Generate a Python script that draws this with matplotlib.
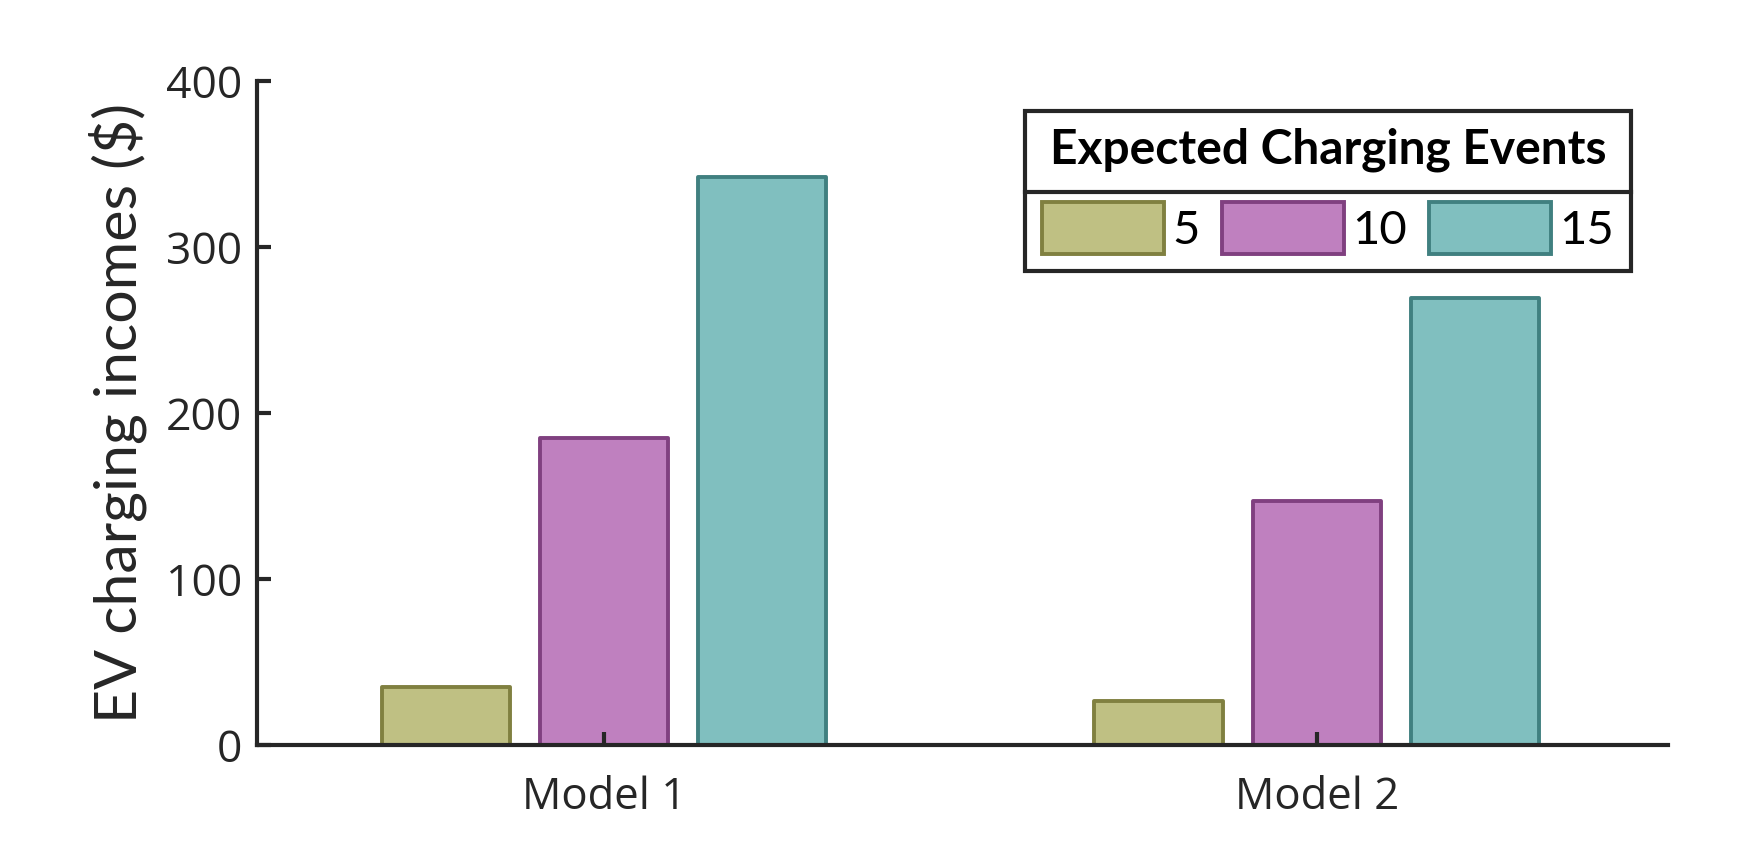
import numpy as np
from matplotlib import pyplot as plt
from matplotlib.patches import Patch
from matplotlib.lines import Line2D

# dados
modelos = ['Model 1', 'Model 2']
eventos = ['5', '10', '15']
receita_5 = [34.7, 26.7]
receita_10 = [185.0, 147.0]
receita_15 = [342.0, 269.0]

cores = ['#BFC083', '#BF80BF', '#80BFBF']
bordas = ['#808040', '#804080', '#408080']
cinza = '#262626'

fig = plt.figure(figsize=(17.38, 8.58), dpi=100)
ax = fig.add_axes([0.1479, 0.1317, 0.9597 - 0.1479, 0.9056 - 0.1317])

x = np.arange(1, len(modelos) + 1)
larg = 0.18
desl = 0.222
series = [receita_5, receita_10, receita_15]
for i, vals in enumerate(series):
    ax.bar(x + (i - 1) * desl, vals, width=larg, color=cores[i],
           edgecolor=bordas[i], linewidth=2.8, joinstyle='round', zorder=1)

ax.set_xlim(0.513, 2.493)
ax.set_ylim(0, 400)
ax.set_yticks([0, 100, 200, 300, 400])
ax.set_xticks(x)
ax.set_xticklabels(modelos)
ax.set_axisbelow(False)

for s in ['top', 'right']:
    ax.spines[s].set_visible(False)
for s in ['left', 'bottom']:
    ax.spines[s].set_linewidth(3)
    ax.spines[s].set_color(cinza)
    ax.spines[s].set_zorder(3)

ax.tick_params(axis='y', direction='in', length=10, width=3, color=cinza,
               labelsize=32, labelcolor=cinza, pad=11)
ax.tick_params(axis='x', direction='in', length=9.5, width=3, color=cinza,
               labelsize=31.5, labelcolor=cinza, pad=22)
for t in ax.get_xticklabels() + ax.get_yticklabels():
    t.set_fontfamily('Open Sans')
ax.set_ylabel('EV charging incomes ($)', fontfamily='Lato', fontsize=42.5,
              color=cinza, labelpad=13)

handles = [Patch(facecolor=cores[i], edgecolor=bordas[i], linewidth=2.8,
                 joinstyle='round', label=eventos[i]) for i in range(3)]
leg = ax.legend(handles=handles, ncol=3, title='Expected Charging Events',
                loc='upper left', bbox_transform=fig.transFigure,
                bbox_to_anchor=(1025 / 1738, 1 - 111 / 858),
                prop={'family': 'Lato', 'size': 34},
                title_fontproperties={'family': 'Lato', 'size': 34.5,
                                      'weight': 'bold'},
                handlelength=2.58, handleheight=1.32, handletextpad=0.18,
                columnspacing=0.47, borderpad=0.36, labelspacing=0.62,
                borderaxespad=0, fancybox=False, edgecolor=cinza,
                framealpha=1)
leg.get_frame().set_linewidth(3)
for t in leg.get_texts():
    t.set_color('black')

# linha separando o título das entradas
fig.canvas.draw()
r = fig.canvas.get_renderer()
bb = leg.get_frame().get_window_extent(r)
ysep = bb.y1 - 0.505 * bb.height
linha = Line2D([bb.x0, bb.x1], [ysep, ysep], color=cinza, linewidth=3,
               transform=None)
fig.add_artist(linha)

fig.savefig('out.png', dpi=100)
